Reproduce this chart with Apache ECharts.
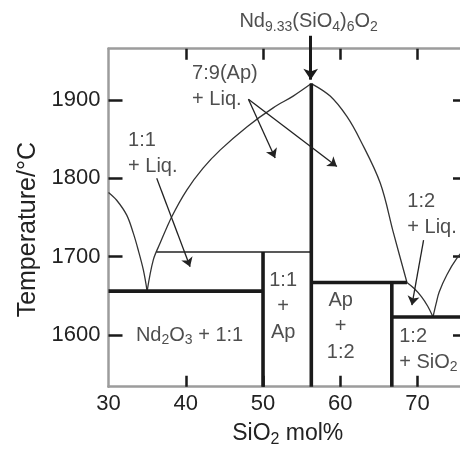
<!DOCTYPE html>
<html>
<head>
<meta charset="utf-8">
<script src="https://cdn.jsdelivr.net/npm/echarts@6/dist/echarts.min.js"></script>
<style>
  html, body { margin: 0; padding: 0; background: #fff; }
  #chart { width: 460px; height: 452px; }
</style>
</head>
<body>
<div id="chart"></div>
<script>
// Axis ticks and labels
const xTickValues = [40, 50, 60, 70];
const xLabelValues = [30, 40, 50, 60, 70];
const yTickValues = [1600, 1700, 1800, 1900];

// Liquidus curves (SiO2 mol%, °C)
const liqNd2O3 = [[30, 1782], [31.06, 1772], [32.36, 1753], [33.21, 1730], [33.86, 1708], [34.51, 1683], [35, 1656]];
const liqApLeft = [[35, 1656], [35.8, 1696], [36.67, 1717], [38.19, 1751], [40.13, 1785], [42.24, 1813], [44.44, 1836], [47.94, 1866], [51.31, 1890], [53.9, 1905], [56.25, 1921]];
const liqApRight = [[56.25, 1921], [58.69, 1905], [60.85, 1879], [62.58, 1849], [65.17, 1794], [66.89, 1730], [68.63, 1667]];
const liq12 = [[68.63, 1667], [69.6, 1659], [70.5, 1649], [71.3, 1637], [72, 1623]];
const liqSiO2 = [[72, 1623], [72.4, 1640], [72.8, 1655], [73.8, 1677], [75.1, 1698], [76.4, 1713]];

// Invariant lines and compound lines
const peritectic11 = [[36.2, 1706], [56.25, 1706]];
const eutecticLeft = [[30, 1656], [50, 1656]];
const compound11 = [[50, 1706], [50, 1534]];
const apatiteLine = [[56.25, 1921], [56.25, 1534]];
const peritectic12 = [[56.25, 1667], [68.63, 1667]];
const compound12 = [[66.67, 1667], [66.67, 1534]];
const eutecticRight = [[66.67, 1623], [76.4, 1623]];

// Pointer arrows: [start, tip]
const apatiteArrow = [[56.17, 1982], [56.17, 1926]];
const pointerArrows = [
  [[48.11, 1901], [51.57, 1826]],
  [[48.11, 1901], [59.56, 1815]],
  [[36.24, 1800], [40.56, 1687]],
  [[70.78, 1721], [69.27, 1638]]
];

// Field labels: [x, y, text, align]
const fieldLabels = [
  [40.82, 1917, '7:9(Ap)\n+ Liq.', 'left'],
  [32.53, 1832, '1:1\n+ Liq.', 'left'],
  [68.67, 1754, '1:2\n+ Liq.', 'left'],
  [40.49, 1600, 'Nd{s|2}O{s|3} + 1:1', 'center'],
  [52.6, 1636, '1:1\n+\nAp', 'center'],
  [60.05, 1611, 'Ap\n+\n1:2', 'center'],
  [67.63, 1582, '1:2\n+ SiO{s|2}', 'left'],
  [55.9, 2000, 'Nd{s|9.33}(SiO{s|4}){s|6}O{s|2}', 'center']
];

const FONT = 'Liberation Sans, Arial, Helvetica, sans-serif';
const subStyle = { fontSize: 14, lineHeight: 14, padding: [10, 0, 0, 0], fontFamily: FONT, color: '#222' };
const axisGray = '#9c9c9c';
const ink = '#1a1a1a';

function thinCurve(data) {
  return {
    type: 'line', data: data, symbol: 'none', smooth: 0.35, silent: true,
    lineStyle: { color: '#333', width: 1.3 }, z: 3
  };
}
function thickLine(data) {
  return {
    type: 'line', data: data, symbol: 'none', silent: true,
    lineStyle: { color: ink, width: 3.6, cap: 'butt' }, z: 4
  };
}

const chart = echarts.init(document.getElementById('chart'), null, { renderer: 'canvas' });

const xCommon = {
  type: 'value', min: 30, max: 76.4,
  splitLine: { show: false },
  axisLine: { show: true, lineStyle: { color: axisGray, width: 2.5 } },
  axisTick: { show: true, inside: true, length: 11, customValues: xTickValues, lineStyle: { color: ink, width: 2.5 } }
};
const yCommon = {
  type: 'value', min: 1534, max: 1965.5,
  splitLine: { show: false },
  axisLine: { show: true, lineStyle: { color: axisGray, width: 2.5 } },
  axisTick: { show: true, inside: true, length: 14, customValues: yTickValues, lineStyle: { color: ink, width: 2.5 } }
};

const option = {
  animation: false,
  backgroundColor: '#fff',
  grid: { left: 108.5, top: 48.7, right: -7, bottom: 65.3, containLabel: false, outerBoundsMode: 'none' },
  xAxis: [
    Object.assign({}, xCommon, {
      position: 'bottom',
      axisLabel: { customValues: xLabelValues, fontSize: 22, color: '#222', margin: 6, fontFamily: FONT, formatter: function (v) { return String(v); } },
      name: 'SiO{s|2} mol%',
      nameLocation: 'middle',
      nameGap: 34,
      nameTextStyle: { fontSize: 23, color: '#222', fontFamily: FONT, rich: { s: { fontSize: 16, lineHeight: 16, padding: [12, 0, 0, 0], fontFamily: FONT, color: '#222' } } }
    }),
    Object.assign({}, xCommon, { position: 'top', axisLabel: { show: false } })
  ],
  yAxis: [
    Object.assign({}, yCommon, {
      position: 'left',
      axisLabel: { customValues: yTickValues, fontSize: 22, color: '#222', margin: 8, fontFamily: FONT, formatter: function (v) { return String(v); } },
      name: 'Temperature/°C',
      nameLocation: 'middle',
      nameGap: 64,
      nameTextStyle: { fontSize: 25, color: '#222', fontFamily: FONT, padding: [0, 24, 0, 0] }
    }),
    Object.assign({}, yCommon, { position: 'right', axisLabel: { show: false } })
  ],
  series: [
    thinCurve(liqNd2O3),
    thinCurve(liqApLeft),
    thinCurve(liqApRight),
    thinCurve(liq12),
    thinCurve(liqSiO2),
    {
      type: 'line', data: peritectic11, symbol: 'none', silent: true,
      lineStyle: { color: '#222', width: 1.6 }, z: 3
    },
    thickLine(eutecticLeft),
    thickLine(compound11),
    thickLine(apatiteLine),
    thickLine(peritectic12),
    thickLine(compound12),
    thickLine(eutecticRight),
    {
      type: 'lines', coordinateSystem: 'cartesian2d', clip: false, silent: true,
      symbol: ['none', 'arrow'], symbolSize: 11,
      lineStyle: { color: ink, width: 3, opacity: 1, curveness: 0 },
      data: [{ coords: apatiteArrow }], z: 5
    },
    {
      type: 'lines', coordinateSystem: 'cartesian2d', clip: false, silent: true,
      symbol: ['none', 'arrow'], symbolSize: 9,
      lineStyle: { color: '#222', width: 1.3, opacity: 1, curveness: 0 },
      data: pointerArrows.map(function (a) { return { coords: a }; }), z: 5
    },
    {
      type: 'scatter', clip: false, silent: true, symbolSize: 1,
      itemStyle: { color: 'rgba(0,0,0,0)' },
      data: fieldLabels.map(function (f) {
        return {
          value: [f[0], f[1]],
          label: {
            show: true, position: 'inside', formatter: f[2], align: f[3], verticalAlign: 'middle',
            fontSize: 20, lineHeight: 26, color: '#222', fontFamily: FONT,
            rich: { s: subStyle }
          }
        };
      }), z: 6
    }
  ]
};
chart.setOption(option);
</script>
</body>
</html>
